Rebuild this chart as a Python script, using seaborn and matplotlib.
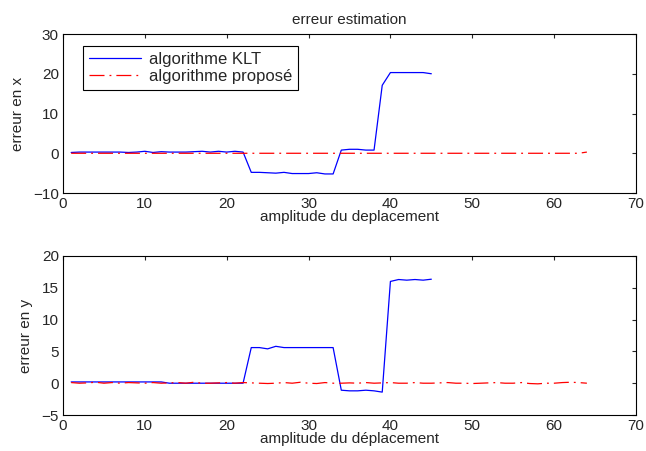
import numpy as np
import pandas as pd
import seaborn as sns
import matplotlib.pyplot as plt

# erreur en x, algorithme KLT (deplacement 1..45)
klt_x = [0.2, 0.3, 0.3, 0.3, 0.3, 0.3, 0.3, 0.2, 0.3, 0.5, 0.2, 0.4, 0.3, 0.3, 0.3,
         0.4, 0.5, 0.3, 0.5, 0.3, 0.5, 0.3,
         -4.8, -4.8, -4.9, -5.0, -4.8, -5.1, -5.1, -5.1, -4.9, -5.2, -5.2,
         0.8, 1.0, 1.0, 0.8, 0.8, 17.1, 20.3, 20.3, 20.3, 20.3, 20.3, 20.0]
# erreur en y, algorithme KLT
klt_y = [0.2] * 12 + [0.0] * 10 + \
        [5.6, 5.6, 5.4, 5.8, 5.6, 5.6, 5.6, 5.6, 5.6, 5.6, 5.6,
         -1.1, -1.2, -1.2, -1.1, -1.2, -1.4, 16.0, 16.3, 16.2, 16.3, 16.2, 16.35]
# algorithme propose (deplacement 1..64)
prop_x = [0.0] * 63 + [0.3]
prop_y = [0.1, 0.0, 0.05, 0.15, 0.0, 0.1, 0.0, 0.1, 0.05, 0.0, 0.1, 0.0, 0.05, 0.1,
          0.0, 0.15, 0.0, 0.0, 0.05, 0.1, 0.0, 0.1, 0.05, 0.0, -0.05, 0.0, 0.1,
          0.0, 0.15, 0.0, -0.05, 0.1, 0.0, 0.0, 0.05, 0.0, 0.1, 0.0, 0.05, 0.1,
          0.0, 0.0, 0.1, 0.0, 0.0, 0.05, 0.1, 0.0, 0.0, -0.05, 0.0, 0.05, 0.1,
          0.0, 0.0, 0.1, -0.05, -0.1, 0.0, 0.0, 0.1, 0.15, 0.1, 0.0]

dep_klt = list(range(1, len(klt_x) + 1))
dep_prop = list(range(1, len(prop_x) + 1))

sns.set_style('white')
plt.rcParams['font.family'] = ['Liberation Sans', 'DejaVu Sans']
plt.rcParams['font.size'] = 11

fig = plt.figure(figsize=(6.46, 4.51), dpi=100)
ax1 = fig.add_axes([0.0975, 0.572, 0.887, 0.3526])
ax2 = fig.add_axes([0.0975, 0.0798, 0.887, 0.3526])

dash_dot = (0, (12, 4, 1.5, 4))

for ax, klt, prop, ylim, yticks, ylab, xlab in [
        (ax1, klt_x, prop_x, (-10, 30), [-10, 0, 10, 20, 30], 'erreur en x', 'amplitude du deplacement'),
        (ax2, klt_y, prop_y, (-5, 20), [-5, 0, 5, 10, 15, 20], 'erreur en y', 'amplitude du déplacement')]:
    sns.lineplot(x=dep_klt, y=klt, ax=ax, color='#0000ff', linewidth=0.9, label='algorithme KLT')
    sns.lineplot(x=dep_prop, y=prop, ax=ax, color='#ff0000', linewidth=0.9,
                 linestyle=dash_dot, label='algorithme proposé')
    ax.set_xlim(0, 70)
    ax.set_ylim(*ylim)
    ax.set_yticks(yticks)
    ax.set_xticks(range(0, 71, 10))
    ax.set_ylabel(ylab, labelpad=6)
    ax.set_xlabel(xlab, labelpad=-1)
    ax.tick_params(direction='in', length=3, top=True, right=True, pad=3, labelsize=11)
    for s in ax.spines.values():
        s.set_color('black')
        s.set_linewidth(0.8)

ax1.set_title('erreur estimation', fontsize=11, pad=7)
leg = ax1.legend(loc='upper left', bbox_to_anchor=(0.035, 0.925), borderaxespad=0,
                 fancybox=False, framealpha=1, edgecolor='black', fontsize=12,
                 handlelength=3.1, handletextpad=0.5, borderpad=0.35, labelspacing=0.15)
leg.get_frame().set_linewidth(0.8)
ax2.legend_.remove()

fig.savefig('out.png', dpi=100)
